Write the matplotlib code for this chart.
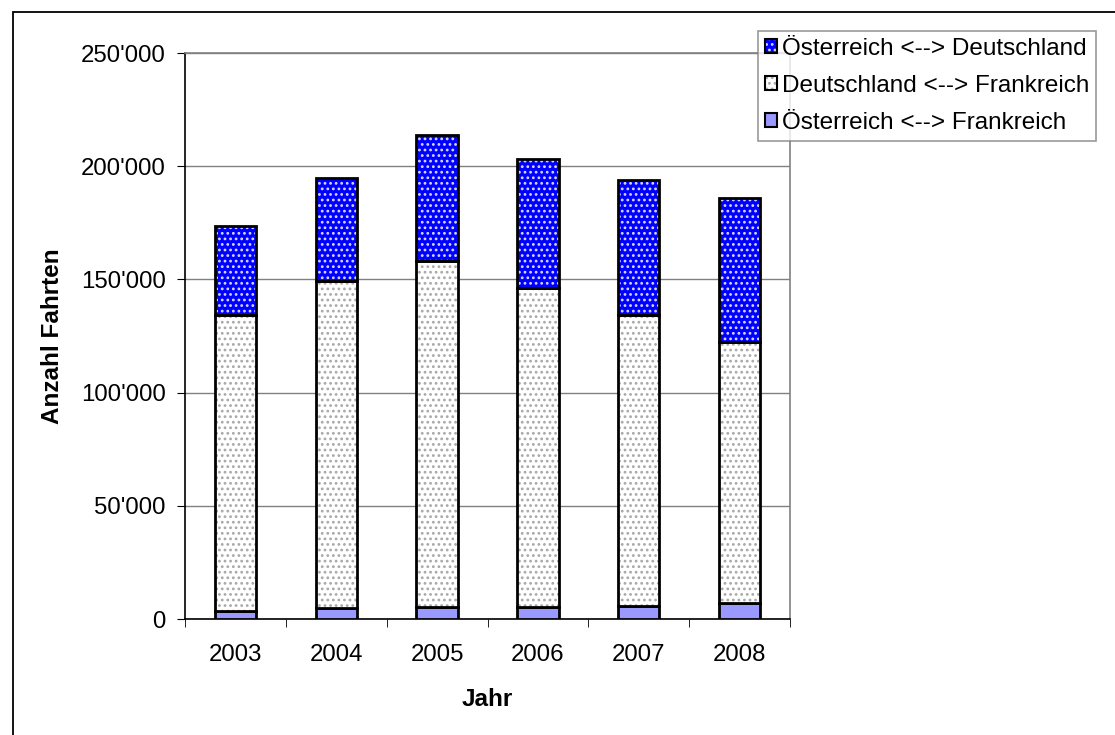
import numpy as np
import matplotlib.pyplot as plt
from matplotlib.patches import Patch, Rectangle
from matplotlib.ticker import FuncFormatter, MultipleLocator

plt.rcParams['font.family'] = ['Liberation Sans', 'DejaVu Sans']
plt.rcParams['hatch.linewidth'] = 1.2

jahre = ['2003', '2004', '2005', '2006', '2007', '2008']
oest_frank = [3700, 4700, 5100, 5300, 5800, 6900]        # Österreich <--> Frankreich
deut_frank = [130700, 144800, 152900, 140900, 128600, 115600]  # Deutschland <--> Frankreich
oest_deut = [39400, 45200, 55900, 56900, 59700, 63500]    # Österreich <--> Deutschland

x = np.arange(len(jahre))
breite = 0.41
fs = 17.3

fig = plt.figure(figsize=(11.15, 7.35), dpi=100)
# Rahmen um das ganze Diagramm (rechts/unten abgeschnitten)
fig.patches.append(Rectangle((13/1115, -0.02), 1.1, 1 - 12/735 + 0.02, transform=fig.transFigure,
                             fill=False, edgecolor='black', linewidth=1.3))
ax = fig.add_axes([185/1115, 1 - 619/735, 605/1115, 566/735])

unten = np.array(oest_frank)
mitte = unten + np.array(deut_frank)

# untere Serie
ax.bar(x, oest_frank, breite, color='#9999ff', edgecolor='black', linewidth=2, zorder=3)
# mittlere Serie: weiss mit grauen Punkten
ax.bar(x, deut_frank, breite, bottom=unten, color='white', edgecolor='#a8a8a8',
       hatch='...', linewidth=0, zorder=3)
ax.bar(x, deut_frank, breite, bottom=unten, fill=False, edgecolor='black', linewidth=2, zorder=4)
# obere Serie: blau mit weissem Muster
ax.bar(x, oest_deut, breite, bottom=mitte, color='#0000ff', edgecolor='#d8d8ff',
       hatch='...', linewidth=0, zorder=3)
ax.bar(x, oest_deut, breite, bottom=mitte, fill=False, edgecolor='black', linewidth=2, zorder=4)

ax.set_xlim(-0.5, len(jahre) - 0.5)
ax.set_ylim(0, 250000)
ax.yaxis.set_major_locator(MultipleLocator(50000))
ax.yaxis.set_major_formatter(FuncFormatter(lambda v, p: f"{int(v):,}".replace(",", "'")))
ax.grid(axis='y', color='#808080', linewidth=1, zorder=0)
ax.set_axisbelow(True)

ax.set_xticks(x)
ax.set_xticklabels(jahre)
ax.set_xticks(np.arange(len(jahre) + 1) - 0.5, minor=True)
ax.tick_params(axis='x', which='major', length=0, pad=18, labelsize=fs)
ax.tick_params(axis='x', which='minor', length=6, direction='out', color='black')
ax.tick_params(axis='y', length=6, direction='out', pad=8, labelsize=fs)

for s in ['top', 'right']:
    ax.spines[s].set_color('#808080')
    ax.spines[s].set_linewidth(1.2)
for s in ['left', 'bottom']:
    ax.spines[s].set_color('black')
    ax.spines[s].set_linewidth(1.2)

ax.set_xlabel('Jahr', fontsize=17.5, fontweight='bold', labelpad=16)
ax.set_ylabel('Anzahl Fahrten', fontsize=17.5, fontweight='bold', labelpad=12)

# Legendensymbole: Muster plus schwarzer Rand
rand = dict(fill=False, edgecolor='black', linewidth=1.5)
griffe = [
    (Patch(facecolor='#0000ff', edgecolor='#d8d8ff', hatch='...', linewidth=0), Patch(**rand)),
    (Patch(facecolor='white', edgecolor='#a8a8a8', hatch='...', linewidth=0), Patch(**rand)),
    (Patch(facecolor='#9999ff', linewidth=0), Patch(**rand)),
]
namen = ['Österreich <--> Deutschland', 'Deutschland <--> Frankreich', 'Österreich <--> Frankreich']
leg = fig.legend(griffe, namen, loc='upper right', bbox_to_anchor=(1096/1115, 1 - 31/735),
                 fontsize=17.5, frameon=True, fancybox=False, edgecolor='#808080',
                 handlelength=0.5, handleheight=0.5, handletextpad=0.2,
                 borderaxespad=0, borderpad=0.28, labelspacing=0.62)
leg.get_frame().set_linewidth(1.2)

fig.savefig('out.png', dpi=100)
